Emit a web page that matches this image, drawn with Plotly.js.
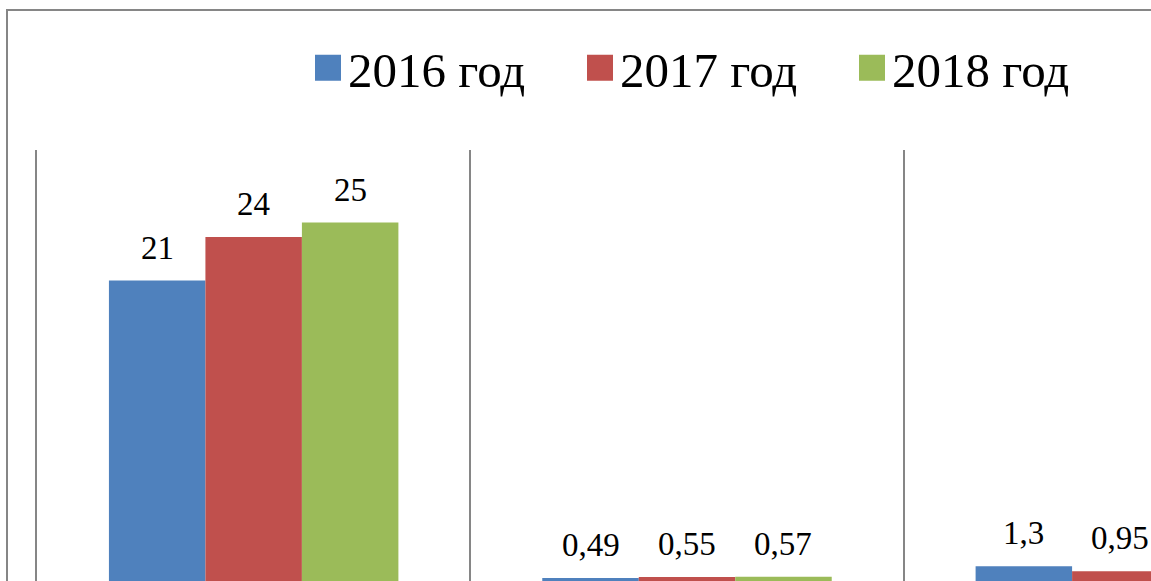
<!DOCTYPE html>
<html>
<head>
<meta charset="utf-8">
<script src="https://cdn.plot.ly/plotly-3.0.1.min.js"></script>
<style>
html, body { margin: 0; padding: 0; background: #fff; overflow: hidden; width: 1151px; height: 581px; font-family: 'Liberation Serif'; }
#chart { position: absolute; left: 0; top: 0; width: 1380px; height: 620px; }
#frame { position: absolute; left: 6px; top: 9px; width: 1400px; height: 700px; border: 2px solid #868686; pointer-events: none; z-index: 5; }
</style>
</head>
<body>
<div id="chart"></div>
<div id="frame"></div>
<script>
// ---- data ----
const categories = ['Категория 1', 'Категория 2', 'Категория 3'];
const seriesNames = ['2016 год', '2017 год', '2018 год'];
const values2016 = [21, 0.49, 1.3];
const values2017 = [24, 0.55, 0.95];
const values2018 = [25, 0.57, 1.1];
const seriesColors = ['#4F81BD', '#C0504D', '#9BBB59'];

const allValues = [values2016, values2017, values2018];
const FONT = 'Liberation Serif';

const W = 1380, H = 620;
const margin = {l: 37, r: 43, t: 150, b: 35};
const plotW = W - margin.l - margin.r;
const plotH = H - margin.t - margin.b;
const bargap = 0.332;
const catPx = plotW / categories.length;
const barPx = catPx * (1 - bargap) / allValues.length;

const fmt = v => String(v).replace('.', ',');

const traces = allValues.map((vals, i) => ({
  type: 'bar',
  name: seriesNames[i],
  x: categories,
  y: vals,
  marker: {color: seriesColors[i], line: {width: 0}},
  hoverinfo: 'skip'
}));

const annotations = [];
allValues.forEach((vals, i) => {
  vals.forEach((v, j) => {
    annotations.push({
      x: categories[j], y: v, xref: 'x', yref: 'y',
      text: fmt(v), showarrow: false,
      xanchor: 'center', yanchor: 'bottom',
      xshift: (i - (allValues.length - 1) / 2) * barPx,
      yshift: 13,
      font: {family: FONT, size: 33, color: '#000'}
    });
  });
});

const layout = {
  width: W, height: H,
  margin: margin,
  paper_bgcolor: 'rgba(0,0,0,0)', plot_bgcolor: 'rgba(0,0,0,0)',
  font: {family: FONT, color: '#000'},
  barmode: 'group', bargap: bargap, bargroupgap: 0,
  showlegend: true,
  legend: {
    orientation: 'h', x: (308 - margin.l) / plotW, xanchor: 'left',
    y: (margin.t + plotH - 68) / plotH, yanchor: 'middle',
    font: {family: FONT, size: 49, color: '#000'},
    entrywidth: 227,
    bgcolor: 'rgba(0,0,0,0)'
  },
  xaxis: {
    type: 'category', range: [-0.5, categories.length - 0.5],
    tickson: 'boundaries', showgrid: true, gridcolor: '#868686', gridwidth: 2,
    showticklabels: false, ticks: '', showline: false, zeroline: false
  },
  yaxis: {
    range: [0, 30], showgrid: false, zeroline: false, showticklabels: false, ticks: '',
    showline: true, linecolor: '#868686', linewidth: 2
  },
  annotations: annotations
};

function draw() {
  return Plotly.newPlot('chart', traces, layout, {displayModeBar: false}).then(() => {
    document.querySelectorAll('#chart .legend .legendpoints path').forEach(p => {
      p.setAttribute('d', 'M13,13H-13V-13H13Z');
    });
  });
}

const fontReady = (document.fonts && document.fonts.load)
  ? Promise.all([document.fonts.load('49px "Liberation Serif"', '2016 год'), document.fonts.load('33px "Liberation Serif"', '0,49')]).catch(() => null)
  : Promise.resolve();
fontReady.then(draw, draw);
</script>
</body>
</html>
